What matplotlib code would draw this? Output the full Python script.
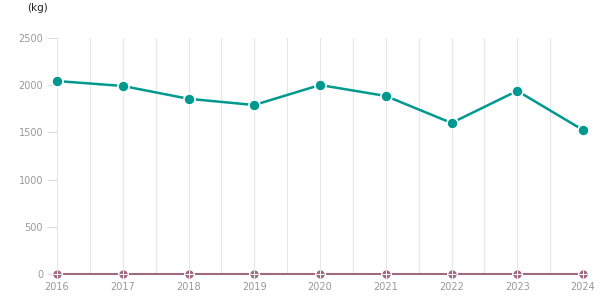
import matplotlib
matplotlib.use("Agg")
import matplotlib.pyplot as plt
import numpy as np

years = [2016, 2017, 2018, 2019, 2020, 2021, 2022, 2023, 2024]
weight_kg = [2044, 1992, 1856, 1790, 2002, 1886, 1600, 1940, 1525]
other_kg = [0, 0, 0, 0, 0, 0, 0, 0, 0]
yticks = [0, 500, 1000, 1500, 2000, 2500]

teal = "#00998f"
mauve = "#a06a7e"

fig = plt.figure(figsize=(6.15, 3.05), dpi=100)
ax = fig.add_axes([57 / 615, 31 / 305, 526 / 615, 236 / 305])

# vertical gridlines at years and half years
for x in np.arange(2016, 2024.01, 0.5):
    ax.axvline(x, color="#e6e6e6", lw=0.8, zorder=0)

ax.plot(years, other_kg, color=mauve, lw=1.5, marker="o", ms=7,
        mec="white", mew=1, clip_on=False, zorder=3)
ax.plot(years, other_kg, ls="none", marker="+", ms=6, mec="white", mew=0.7,
        clip_on=False, zorder=4)
ax.plot(years, weight_kg, color=teal, lw=1.8, marker="o", ms=8,
        mec="white", mew=1.2, clip_on=False, zorder=5)

ax.set_xlim(2016, 2024)
ax.set_ylim(0, 2500)
ax.set_xticks(years)
ax.set_yticks(yticks)
ax.tick_params(axis="both", colors="#999999", labelsize=7)
ax.tick_params(axis="x", length=0, pad=6)
ax.tick_params(axis="y", length=7, color="#dddddd", pad=3)
for s in ax.spines.values():
    s.set_visible(False)

fig.text(27 / 615, 1 - 8 / 305, "(kg)", fontsize=7.5, color="#222222", va="center")

fig.savefig("out.png", dpi=100)
